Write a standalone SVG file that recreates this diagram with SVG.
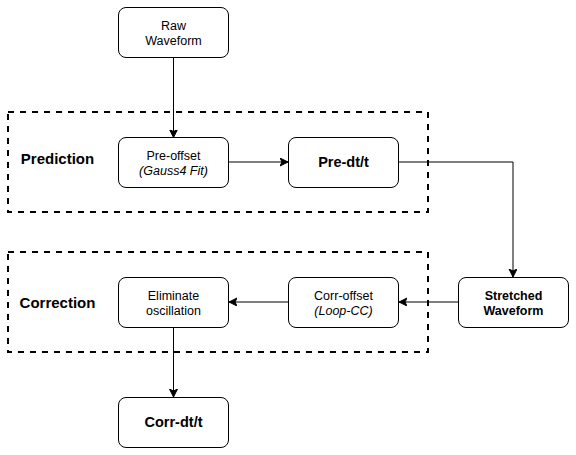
<svg xmlns="http://www.w3.org/2000/svg" width="576" height="455" viewBox="0 0 576 455">
  <style>
    .node { fill: #ffffff; stroke: #000000; stroke-width: 1; }
    .group { fill: none; stroke: #000000; stroke-width: 2; stroke-dasharray: 6 6; }
    .edge { fill: none; stroke: #000000; stroke-width: 1; }
    text { font-family: "Liberation Sans", Arial, Helvetica, sans-serif; fill: #000000; text-anchor: middle; }
    .t { font-size: 12.5px; }
    .ti { font-size: 12.5px; font-style: italic; }
    .tb { font-size: 12.5px; font-weight: bold; }
    .tbl { font-size: 14.5px; font-weight: bold; }
    .lbl { font-size: 15px; font-weight: bold; }
  </style>
  <defs>
    <marker id="arrow" markerUnits="userSpaceOnUse" markerWidth="10" markerHeight="10" refX="8" refY="4" orient="auto">
      <path d="M0,0 L8,4 L0,8 L2,4 Z" fill="#000000" stroke="#000000" stroke-width="1"/>
    </marker>
  </defs>
  <rect width="576" height="455" fill="#ffffff"/>

  <g id="prediction-group">
    <rect class="group" x="8" y="112" width="420" height="100"/>
    <text class="lbl" x="57.5" y="163.5">Prediction</text>
  </g>
  <g id="correction-group">
    <rect class="group" x="8" y="252" width="420" height="100"/>
    <text class="lbl" x="57.5" y="308">Correction</text>
  </g>

  <g id="connectors">
    <path class="edge" d="M173.5,57.5 L173.5,137.5" marker-end="url(#arrow)"/>
    <path class="edge" d="M229,162 L288,162" marker-end="url(#arrow)"/>
    <path class="edge" d="M399,162 L513,162 L513,277" marker-end="url(#arrow)"/>
    <path class="edge" d="M458,302 L399,302" marker-end="url(#arrow)"/>
    <path class="edge" d="M288,302 L229,302" marker-end="url(#arrow)"/>
    <path class="edge" d="M173.5,327 L173.5,397" marker-end="url(#arrow)"/>
  </g>

  <g id="raw-waveform">
    <rect class="node" x="118.5" y="7.5" width="110" height="50" rx="7.5" ry="7.5"/>
    <text class="t" x="173.5" y="29.5">Raw</text>
    <text class="t" x="173.5" y="44.5">Waveform</text>
  </g>
  <g id="pre-offset">
    <rect class="node" x="118.5" y="137.5" width="110" height="50" rx="7.5" ry="7.5"/>
    <text class="t" x="173.5" y="159.5">Pre-offset</text>
    <text class="ti" x="173.5" y="174.5">(Gauss4 Fit)</text>
  </g>
  <g id="pre-dtt">
    <rect class="node" x="288.5" y="137.5" width="110" height="50" rx="7.5" ry="7.5"/>
    <text class="tbl" x="343.5" y="167">Pre-dt/t</text>
  </g>
  <g id="stretched-waveform">
    <rect class="node" x="458.5" y="277.5" width="110" height="50" rx="7.5" ry="7.5"/>
    <text class="tb" x="513.5" y="299.5">Stretched</text>
    <text class="tb" x="513.5" y="314.5">Waveform</text>
  </g>
  <g id="corr-offset">
    <rect class="node" x="288.5" y="277.5" width="110" height="50" rx="7.5" ry="7.5"/>
    <text class="t" x="343.5" y="299.5">Corr-offset</text>
    <text class="ti" x="343.5" y="314.5">(Loop-CC)</text>
  </g>
  <g id="eliminate-oscillation">
    <rect class="node" x="118.5" y="277.5" width="110" height="50" rx="7.5" ry="7.5"/>
    <text class="t" x="173.5" y="299.5">Eliminate</text>
    <text class="t" x="173.5" y="314.5">oscillation</text>
  </g>
  <g id="corr-dtt">
    <rect class="node" x="118.5" y="397.5" width="110" height="50" rx="7.5" ry="7.5"/>
    <text class="tbl" x="173.5" y="427">Corr-dt/t</text>
  </g>
</svg>
